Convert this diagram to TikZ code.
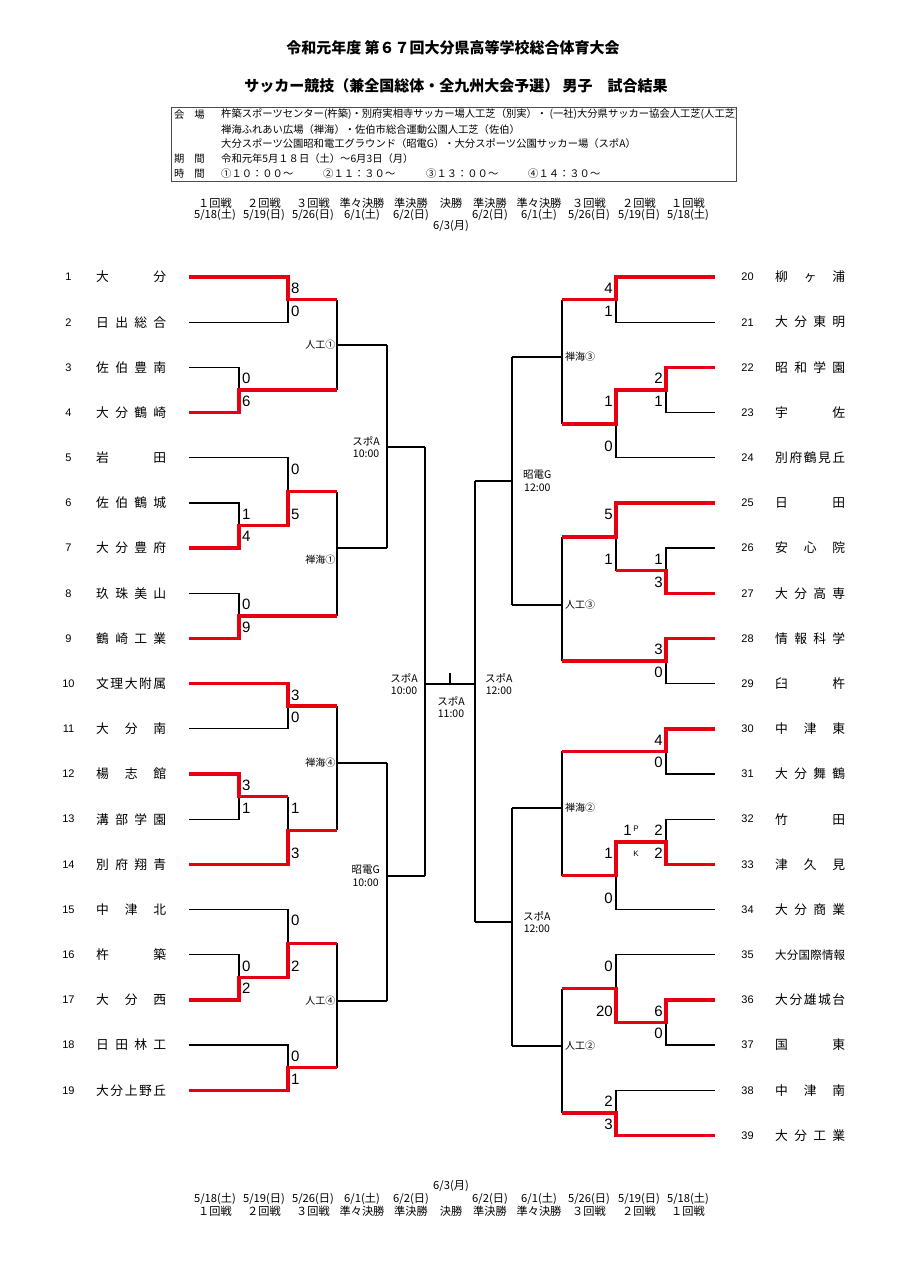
\documentclass[tikz,border=0pt]{standalone}
\usepackage{fontspec}
\setmainfont{Noto Sans CJK JP}
\newfontfamily\numfont{Liberation Sans}
\definecolor{bred}{RGB}{230,0,18}
\newcommand\spread[2][70pt]{\makebox[#1]{\expandafter\spreadaux#2\relax}}
\def\spreadaux#1#2{#1\ifx\relax#2\else\hfill\expandafter\spreadaux\fi#2}
\begin{document}
\begin{tikzpicture}[x=1pt,y=-1pt,
  bl/.style={line width=1.2pt, draw=black},
  rd/.style={line width=3.5pt, draw=bred, line join=miter},
  num/.style={inner sep=0pt, font=\numfont\fontsize{11}{11}\selectfont},
  tm/.style={inner sep=0pt, anchor=west, font=\fontsize{12.8}{12.8}\selectfont},
  scr/.style={inner sep=0pt, font=\numfont\fontsize{15}{15}\selectfont},
  scl/.style={scr, anchor=west},
  scrr/.style={scr, anchor=east},
  rl/.style={inner sep=0pt, font=\fontsize{10}{10}\selectfont},
  rl2/.style={inner sep=0pt, align=center, font=\fontsize{10.5}{12.5}\selectfont},
  hd/.style={inner sep=0pt, font=\fontsize{11.2}{11.2}\selectfont},
  ib/.style={inner sep=0pt, anchor=west, font=\fontsize{10.3}{10.3}\selectfont},
  tt/.style={inner sep=0pt, font=\bfseries\fontsize{15}{15}\selectfont}]
\fill[white] (0,0) rectangle (905,1280);
\path[use as bounding box] (0,0) rectangle (905,1280);

% titles
\node[tt] (title1) at (453,48) {令和元年度 第６７回大分県高等学校総合体育大会};
\node[tt] (title2) at (456,86) {サッカー競技（兼全国総体・全九州大会予選） 男子　試合結果};

% info box
\draw[line width=0.7pt, black!70] (171,107) rectangle (736,181);
\begin{scope}
\clip (171,107) rectangle (735.5,181);
\node[ib] (i1) at (174,114.4) {会\hspace{10pt}場};
\node[ib] (i1t) at (221,114.4) {杵築スポーツセンター(杵築)・別府実相寺サッカー場人工芝（別実）・ (一社)大分県サッカー協会人工芝(人工芝)};
\end{scope}
\node[ib] (i2t) at (221,129.2) {禅海ふれあい広場（禅海）・佐伯市総合運動公園人工芝（佐伯）};
\node[ib] (i3t) at (221,144) {大分スポーツ公園昭和電工グラウンド（昭電G）・大分スポーツ公園サッカー場（スポA）};
\node[ib] (i4) at (174,158.8) {期\hspace{10pt}間};
\node[ib] (i4t) at (221,158.8) {令和元年5月１８日（土）～6月3日（月）};
\node[ib] (i5) at (174,173.6) {時\hspace{10pt}間};
\node[ib] (i5a) at (221,173.6) {①１０：００～};
\node[ib] (i5b) at (323,173.6) {②１１：３０～};
\node[ib] (i5c) at (426,173.6) {③１３：００～};
\node[ib] (i5d) at (528,173.6) {④１４：３０～};

% header / footer
\foreach \x/\r/\d [count=\c] in {215/１回戦/{5/18(土)}, 264/２回戦/{5/19(日)}, 313/３回戦/{5/26(日)}, 362/準々決勝/{6/1(土)}, 411/準決勝/{6/2(日)}, 490/準決勝/{6/2(日)}, 539/準々決勝/{6/1(土)}, 589/３回戦/{5/26(日)}, 639/２回戦/{5/19(日)}, 688/１回戦/{5/18(土)}} {
  \node[hd] (hr\c) at (\x,203.5) {\r};
  \node[hd] (hd\c) at (\x,215) {\d};
  \node[hd] (fd\c) at (\x,1199) {\d};
  \node[hd] (fr\c) at (\x,1211) {\r};
}
\node[hd] (hrF) at (451,203.5) {決勝};
\node[hd] (hdF) at (451,226) {6/3(月)};
\node[hd] (fdF) at (451,1186.5) {6/3(月)};
\node[hd] (frF) at (451,1211) {決勝};

% teams left
\foreach \i/\n in {1/大分, 2/日出総合, 3/佐伯豊南, 4/大分鶴崎, 5/岩田, 6/佐伯鶴城, 7/大分豊府, 8/玖珠美山, 9/鶴崎工業, 10/文理大附属, 11/大分南, 12/楊志館, 13/溝部学園, 14/別府翔青, 15/中津北, 16/杵築, 17/大分西, 18/日田林工, 19/大分上野丘} {
  \pgfmathsetmacro\yy{277+(\i-1)*45.18}
  \node[num] (k\i) at (68.5,\yy) {\i};
  \node[tm] (n\i) at (96,\yy) {\spread{\n}};
  \coordinate (L\i) at (189,\yy);
}
% teams right
\foreach \i/\n in {20/柳ヶ浦, 21/大分東明, 22/昭和学園, 23/宇佐, 24/別府鶴見丘, 25/日田, 26/安心院, 27/大分高専, 28/情報科学, 29/臼杵, 30/中津東, 31/大分舞鶴, 32/竹田, 33/津久見, 34/大分商業, 36/大分雄城台, 37/国東, 38/中津南, 39/大分工業} {
  \pgfmathsetmacro\yy{277+(\i-20)*45.18}
  \node[num] (k\i) at (747.5,\yy) {\i};
  \node[tm] (n\i) at (775,\yy) {\spread{\n}};
  \coordinate (R\i) at (715,\yy);
}
\node[num] (k35) at (747.5,954.7) {35};
\node[tm, font=\fontsize{11.5}{11.5}\selectfont] (n35) at (775,954.7) {\spread{大分国際情報}};
\coordinate (R35) at (715,954.7);

% black lines left
\draw[bl] (L2) -| (288,299.59);
\draw[bl] (L3) -| (239,389.95);
\draw[bl] (L5) -| (288,491.6);
\draw[bl] (L6) -| (239,525.49);
\draw[bl] (L8) -| (239,615.85);
\draw[bl] (L11) -| (288,706.21);
\draw[bl] (L13) -| (239,796.57);
\draw[bl] (288,796.57) -- (288,830.46);
\draw[bl] (L15) -| (288,943.4);
\draw[bl] (L16) -| (239,977.29);
\draw[bl] (L18) -| (288,1067.65);
\draw[bl] (337,299.59) -- (337,389.95) (337,345) -- (387,345);
\draw[bl] (337,491.6) -- (337,615.85) (337,548) -- (387,548);
\draw[bl] (337,706.21) -- (337,830.46) (337,763) -- (387,763);
\draw[bl] (337,943.4) -- (337,1067.65) (337,1001) -- (387,1001);
\draw[bl] (387,345) -- (387,548) (387,447) -- (425,447);
\draw[bl] (387,763) -- (387,1001) (387,876) -- (425,876);
\draw[bl] (425,447) -- (425,876);
\coordinate (finL) at (425,684);
\coordinate (finR) at (475,684);
\coordinate (finM) at (450,684);
\coordinate (finT) at (450,673);
\draw[bl] (finL) -- (finR) (finM) -- (finT);
% black lines right
\draw[bl] (475,481) -- (475,922);
\draw[bl] (512,357) -- (512,605) (512,481) -- (475,481);
\draw[bl] (512,808) -- (512,1046) (512,922) -- (475,922);
\draw[bl] (562,299.59) -- (562,423.84) (562,357) -- (512,357);
\draw[bl] (562,536.79) -- (562,661.03) (562,605) -- (512,605);
\draw[bl] (562,751.39) -- (562,875.64) (562,808) -- (512,808);
\draw[bl] (562,988.59) -- (562,1112.83) (562,1046) -- (512,1046);
\draw[bl] (R21) -| (616,299.59);
\draw[bl] (R23) -| (666,389.95);
\draw[bl] (R24) -| (616,423.84);
\draw[bl] (R26) -| (666,570.67);
\draw[bl] (616,570.67) -- (616,536.79);
\draw[bl] (R29) -| (666,661.03);
\draw[bl] (R31) -| (666,751.39);
\draw[bl] (R32) -| (666,841.75);
\draw[bl] (R34) -| (616,875.64);
\draw[bl] (R35) -| (616,988.59);
\draw[bl] (R37) -| (666,1022.47);
\draw[bl] (R38) -| (616,1112.83);

% red winner lines
\draw[rd] (L1) -| (288,299.59) -- (337,299.59);
\draw[rd] (L4) -| (239,389.95) -- (337,389.95);
\draw[rd] (L7) -| (239,525.49) -| (288,491.6) -- (337,491.6);
\draw[rd] (L9) -| (239,615.85) -- (337,615.85);
\draw[rd] (L10) -| (288,706.21) -- (337,706.21);
\draw[rd] (L12) -| (239,796.57) -- (288,796.57);
\draw[rd] (L14) -| (288,830.46) -- (337,830.46);
\draw[rd] (L17) -| (239,977.29) -| (288,943.4) -- (337,943.4);
\draw[rd] (L19) -| (288,1067.65) -- (337,1067.65);
\draw[rd] (R20) -| (616,299.59) -- (562,299.59);
\draw[rd] (R22) -| (666,389.95) -| (616,423.84) -- (562,423.84);
\draw[rd] (R25) -| (616,536.79) -- (562,536.79);
\draw[rd] (R27) -| (666,570.67) -- (616,570.67);
\draw[rd] (R28) -| (666,661.03) -- (562,661.03);
\draw[rd] (R30) -| (666,751.39) -- (562,751.39);
\draw[rd] (R33) -| (666,841.75) -| (616,875.64) -- (562,875.64);
\draw[rd] (R36) -| (666,1022.47) -| (616,988.59) -- (562,988.59);
\draw[rd] (R39) -| (616,1112.83) -- (562,1112.83);

% scores left
\node[scl] (s1) at (291,288.3) {8};   \node[scl] (s2) at (291,310.9) {0};
\node[scl] (s3) at (242,378.7) {0};   \node[scl] (s4) at (242,401.2) {6};
\node[scl] (s6) at (242,514.2) {1};   \node[scl] (s7) at (242,536.8) {4};
\node[scl] (s5) at (291,469) {0};     \node[scl] (s67) at (291,514.2) {5};
\node[scl] (s8) at (242,604.6) {0};   \node[scl] (s9) at (242,627.1) {9};
\node[scl] (s10) at (291,694.9) {3};  \node[scl] (s11) at (291,717.5) {0};
\node[scl] (s12) at (242,785.3) {3};  \node[scl] (s13) at (242,807.9) {1};
\node[scl] (s1213) at (291,807.9) {1}; \node[scl] (s14) at (291,853) {3};
\node[scl] (s16) at (242,966) {0};    \node[scl] (s17) at (242,988.6) {2};
\node[scl] (s15) at (291,920.8) {0};  \node[scl] (s1617) at (291,966) {2};
\node[scl] (s18) at (291,1056.4) {0}; \node[scl] (s19) at (291,1078.9) {1};
% scores right
\node[scrr] (s20) at (613,288.3) {4};  \node[scrr] (s21) at (613,310.9) {1};
\node[scrr] (s22) at (663,378.7) {2};  \node[scrr] (s23) at (663,401.2) {1};
\node[scrr] (s2223) at (613,401.3) {1}; \node[scrr] (s24) at (613,446.4) {0};
\node[scrr] (s26) at (663,559.4) {1};  \node[scrr] (s27) at (663,582) {3};
\node[scrr] (s25) at (613,514.2) {5};  \node[scrr] (s2627) at (613,559.4) {1};
\node[scrr] (s28) at (663,649.7) {3};  \node[scrr] (s29) at (663,672.3) {0};
\node[scrr] (s30) at (663,740.1) {4};  \node[scrr] (s31) at (663,762.7) {0};
\node[scrr] (s32) at (663,830.5) {2};  \node[scrr] (s33) at (663,853) {2};
\node[scrr] (s3233) at (613,853.1) {1}; \node[scrr] (s34) at (613,898.2) {0};
\node[scrr] (s36) at (663,1011.2) {6}; \node[scrr] (s37) at (663,1033.8) {0};
\node[scrr] (s35) at (613,966) {0};    \node[scrr] (s3637) at (613,1011.2) {20};
\node[scrr] (s38) at (613,1101.5) {2}; \node[scrr] (s39) at (613,1124.1) {3};
% PK
\node[scr] (pk1) at (627.5,830.5) {1};
\node[inner sep=0pt, font=\numfont\fontsize{8}{8}\selectfont] (pkP) at (636,828.5) {P};
\node[inner sep=0pt, font=\numfont\fontsize{8}{8}\selectfont] (pkK) at (636,853.5) {K};

% round labels
\node[rl, anchor=east] (v1) at (335.5,345) {人工①};
\node[rl, anchor=east] (v2) at (335.5,560) {禅海①};
\node[rl, anchor=east] (v3) at (335.5,763) {禅海④};
\node[rl, anchor=east] (v4) at (335.5,1001) {人工④};
\node[rl, anchor=west] (v5) at (565,357) {禅海③};
\node[rl, anchor=west] (v6) at (565,605) {人工③};
\node[rl, anchor=west] (v7) at (565,808) {禅海②};
\node[rl, anchor=west] (v8) at (565,1046) {人工②};
\node[rl2, anchor=east] (q1) at (380,447) {スポA\\10:00};
\node[rl2, anchor=east] (q2) at (380,876) {昭電G\\10:00};
\node[rl2, anchor=east] (q3) at (418,684) {スポA\\10:00};
\node[rl2] (q4) at (451,707) {スポA\\11:00};
\node[rl2, anchor=west] (q5) at (485,684) {スポA\\12:00};
\node[rl2, anchor=west] (q6) at (523,481) {昭電G\\12:00};
\node[rl2, anchor=west] (q7) at (523,922) {スポA\\12:00};
\end{tikzpicture}
\end{document}
